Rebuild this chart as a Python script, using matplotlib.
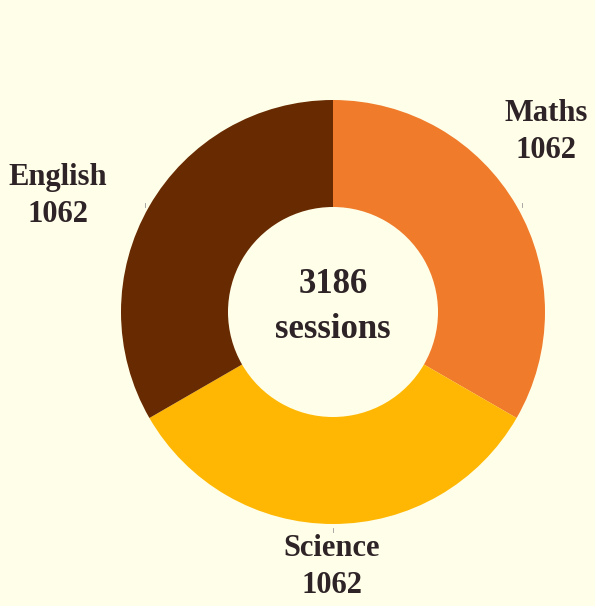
import matplotlib
matplotlib.use('Agg')
import matplotlib.pyplot as plt

# data
subjects = ['Maths', 'Science', 'English']
sessions = [1062, 1062, 1062]
colors = ['#F07B2B', '#FFB703', '#682A00']
total = sum(sessions)

bg = '#FFFFE9'
txt = '#2E2326'
plt.rcParams['font.family'] = ['Liberation Serif', 'DejaVu Serif']

H = 606
fig = plt.figure(figsize=(5.95, 6.06), dpi=100, facecolor=bg)
ax = fig.add_axes([0, 0, 1, 1])
ax.set_facecolor(bg)

cx, cy, r = 333, H - 312, 212
ax.pie(sessions, colors=colors, startangle=90, counterclock=False,
       center=(cx, cy), radius=r, wedgeprops=dict(width=107, linewidth=0),
       frame=True)
ax.set_xlim(0, 595)
ax.set_ylim(0, H)
ax.set_aspect('equal')
ax.axis('off')

# labels outside the ring, with the small anchor ticks
label_pos = {'Maths': (546, 132), 'Science': (332, 567), 'English': (58, 196)}
tick_pos = {'Maths': (522, 205), 'Science': (333, 530), 'English': (145, 205)}
for name, val in zip(subjects, sessions):
    x, y = label_pos[name]
    ax.text(x, H - y, f"{name}\n{val}", ha='center', va='center', fontsize=22,
            fontweight='bold', color=txt, linespacing=1.38)
    tx, ty = tick_pos[name]
    ax.plot([tx, tx], [H - ty - 2, H - ty + 2], color='#999999', lw=0.6)

ax.text(cx, H - 307, f"{total}\nsessions", ha='center', va='center',
        fontsize=25, fontweight='bold', color=txt, linespacing=1.5)

plt.savefig('out.png', dpi=100, facecolor=bg)
plt.close()
